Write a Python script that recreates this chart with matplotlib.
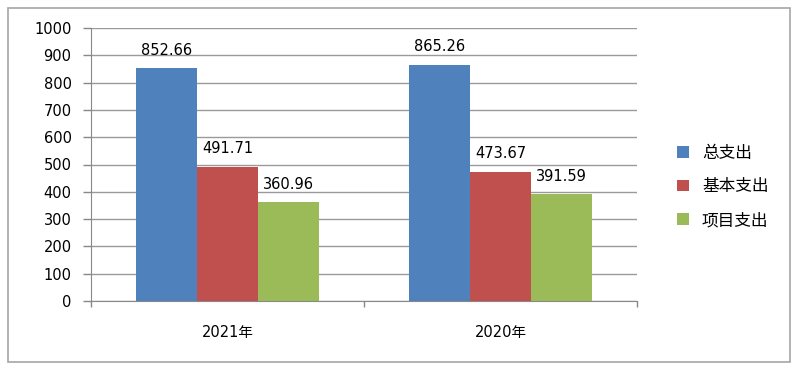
import matplotlib.pyplot as plt
import numpy as np
from matplotlib.patches import Rectangle

plt.rcParams["font.family"] = ["DejaVu Sans", "Noto Sans CJK SC"]

# 数据
years = ["2021年", "2020年"]
series = ["总支出", "基本支出", "项目支出"]
total = [852.66, 865.26]
basic = [491.71, 473.67]
project = [360.96, 391.59]
colors = ["#4f81bd", "#c0504d", "#9bbb59"]

fig = plt.figure(figsize=(8, 3.75), dpi=100)
ax = fig.add_axes([91 / 800, 1 - 301 / 375, (637 - 91) / 800, (301 - 28) / 375])

# 外框
fig.patches.append(
    Rectangle((8 / 800, 1 - 362 / 375), 782 / 800, 354 / 375,
              transform=fig.transFigure, fill=False, edgecolor="#a6a6a6", lw=1.2)
)

x = np.arange(len(years))
width = 0.224
values = [total, basic, project]
for i, (name, vals) in enumerate(zip(series, values)):
    pos = x + (i - 1) * width
    ax.bar(pos, vals, width, color=colors[i], label=name, zorder=3)
    for p, v in zip(pos, vals):
        ax.text(p, v + 38, f"{v:.2f}", ha="center", va="bottom", fontsize=10.5,
                color="black")

ax.set_xlim(-0.5, 1.5)
ax.set_ylim(0, 1000)
ax.set_yticks(np.arange(0, 1001, 100))
ax.yaxis.grid(True, color="#9a9a9a", lw=1, zorder=0)
ax.set_xticks(x)
ax.set_xticklabels(years)
ax.set_xticks([-0.5, 0.5, 1.5], minor=True)
ax.tick_params(axis="x", which="major", length=0, pad=17, labelsize=10.5)
ax.tick_params(axis="x", which="minor", length=4, color="#888888", width=1)
ax.tick_params(axis="y", length=6, color="#888888", width=1, labelsize=10.5, pad=8)

for s in ["top", "right"]:
    ax.spines[s].set_visible(False)
for s in ["left", "bottom"]:
    ax.spines[s].set_color("#888888")

fig.legend(loc="center left", bbox_to_anchor=(662 / 800, 1 - 187 / 375),
           frameon=False, handlelength=0.7, handleheight=0.7,
           prop={"family": ["Noto Sans CJK SC"], "size": 12},
           labelspacing=1.0, handletextpad=0.8)

fig.savefig("out.png", dpi=100)
